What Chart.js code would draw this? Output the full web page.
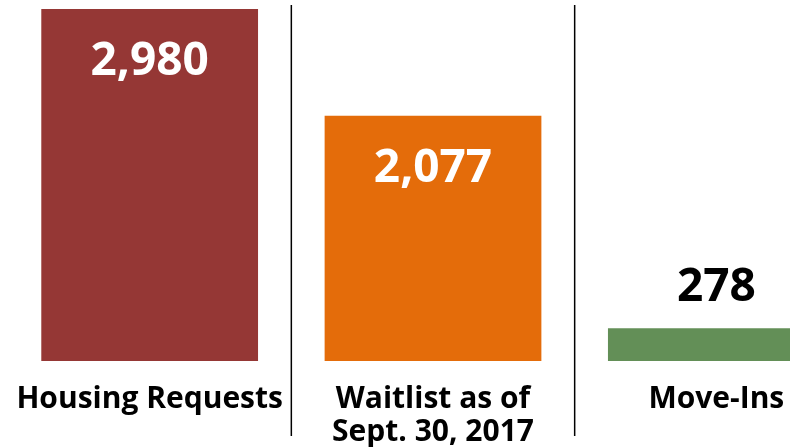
<!DOCTYPE html>
<html>
<head>
<meta charset="utf-8">
<script src="https://cdn.jsdelivr.net/npm/chart.js@4"></script>
<style>
  html, body { margin: 0; padding: 0; background: #fff; }
  #wrap { width: 790px; height: 447px; overflow: hidden; position: relative; }
  #box { position: absolute; left: 0; top: 0; width: 866px; height: 447px; }
</style>
</head>
<body>
<div id="wrap"><div id="box"><canvas id="myChart"></canvas></div></div>
<script>
// categories and values
let labels = ['Housing Requests', ['Waitlist as of', 'Sept. 30, 2017'], 'Move-Ins'];
let values = [2980, 2077, 278];
let colors = ['#953735', '#E46C0A', '#638F57'];
let labelColors = ['#ffffff', '#ffffff', '#000000'];

let font = '"Open Sans", "Noto Sans", sans-serif';

// value labels: white inside the tall bars, black above the short one
let valueLabels = {
    id: 'valueLabels',
    afterDatasetsDraw(chart) {
        let ctx = chart.ctx;
        let meta = chart.getDatasetMeta(0);
        ctx.save();
        ctx.font = 'bold 46px ' + font;
        ctx.textAlign = 'center';
        ctx.textBaseline = 'middle';
        meta.data.forEach((bar, i) => {
            let inside = labelColors[i] === '#ffffff';
            let y = inside ? bar.y + 53 : bar.y - 40;
            ctx.fillStyle = labelColors[i];
            ctx.fillText(values[i].toLocaleString('en-US'), bar.x, y);
        });
        ctx.restore();
    }
};

// thin vertical dividers between the categories
let dividers = {
    id: 'dividers',
    afterDraw(chart) {
        let ctx = chart.ctx;
        let x = chart.scales.x;
        ctx.save();
        ctx.strokeStyle = '#000';
        ctx.lineWidth = 1.5;
        for (let i = 1; i < values.length; i++) {
            let px = (x.getPixelForValue(i - 1) + x.getPixelForValue(i)) / 2;
            ctx.beginPath();
            ctx.moveTo(px, 5);
            ctx.lineTo(px, 436);
            ctx.stroke();
        }
        ctx.restore();
    }
};

let myChart = new Chart(document.getElementById('myChart'), {
    type: 'bar',
    data: {
        labels: labels,
        datasets: [{
            data: values,
            backgroundColor: colors,
            borderWidth: 0,
            categoryPercentage: 1,
            barPercentage: 0.765
        }]
    },
    options: {
        responsive: true,
        maintainAspectRatio: false,
        animation: false,
        layout: { padding: { top: 9, left: 8, right: 8, bottom: 0 } },
        plugins: {
            legend: { display: false },
            tooltip: { enabled: false }
        },
        scales: {
            x: {
                grid: { display: false },
                border: { display: false },
                ticks: {
                    color: '#000',
                    padding: 14,
                    font: { family: font, size: 30, weight: 'bold', lineHeight: 1.1 }
                },
                afterFit: s => { s.height = 86; }
            },
            y: {
                display: false,
                min: 0,
                max: Math.max(...values)
            }
        }
    },
    plugins: [valueLabels, dividers]
});
</script>
</body>
</html>
